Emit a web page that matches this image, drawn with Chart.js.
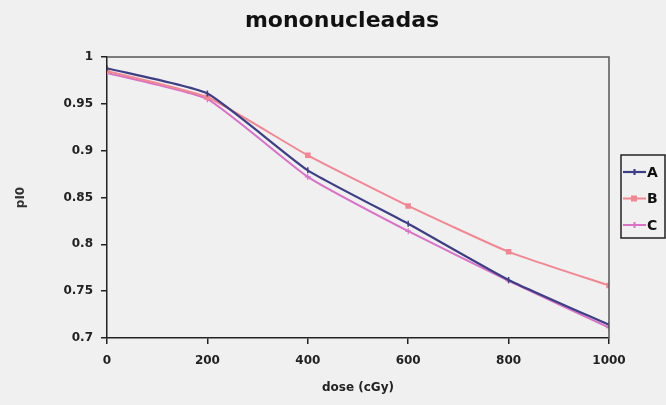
<!DOCTYPE html>
<html>
<head>
<meta charset="utf-8">
<script src="https://cdn.jsdelivr.net/npm/chart.js@4.4.1/dist/chart.umd.min.js"></script>
<style>
  html, body { margin: 0; padding: 0; background: #f0f0f0; }
  #wrap { width: 666px; height: 405px; }
</style>
</head>
<body>
<div id="wrap"><canvas id="curvas" width="666" height="405"></canvas></div>
<script>
var ctx = document.getElementById('curvas').getContext('2d');

/* curvas de sobrevivencia - celulas mononucleadas */
const doses = [0, 200, 400, 600, 800, 1000];
const serieA = [0.988, 0.961, 0.879, 0.822, 0.762, 0.714];
const serieB = [0.985, 0.957, 0.895, 0.841, 0.792, 0.756];
const serieC = [0.983, 0.955, 0.872, 0.814, 0.761, 0.711];
const yTicks = [0.7, 0.75, 0.8, 0.85, 0.9, 0.95, 1];
const xTicks = [0, 200, 400, 600, 800, 1000];

const cores = { A: '#3e3e84', B: '#f08894', C: '#d872c6' };

function pontos(vals) {
    return doses.map((d, i) => ({ x: d, y: vals[i] }));
}

// titulo, moldura e legenda com caixa
const extras = {
    id: 'extras',
    afterDraw(chart) {
        const c = chart.ctx;
        const a = chart.chartArea;
        c.save();
        c.strokeStyle = '#555';
        c.lineWidth = 1.5;
        c.beginPath();
        c.moveTo(a.left, a.top);
        c.lineTo(a.right, a.top);
        c.lineTo(a.right, a.bottom);
        c.stroke();

        c.fillStyle = '#111';
        c.font = 'bold 22px "DejaVu Sans"';
        c.textAlign = 'center';
        c.textBaseline = 'middle';
        c.fillText('mononucleadas', 342, 21);

        // legenda
        c.strokeStyle = '#222';
        c.lineWidth = 1.5;
        c.strokeRect(621, 155, 44, 83);
        c.font = 'bold 14px "DejaVu Sans"';
        c.textAlign = 'left';
        chart.data.datasets.forEach((ds, i) => {
            const y = 172 + i * 26.5;
            c.strokeStyle = ds.borderColor;
            c.lineWidth = ds.borderWidth;
            c.beginPath();
            c.moveTo(623, y);
            c.lineTo(646, y);
            c.stroke();
            c.fillStyle = ds.borderColor;
            if (ds.pointStyle === 'rect') {
                c.fillRect(631, y - 3, 6, 6);
            } else {
                c.beginPath();
                c.moveTo(634.5, y - 3);
                c.lineTo(634.5, y + 3);
                c.stroke();
            }
            c.fillStyle = '#111';
            c.fillText(ds.label, 647, y + 1);
        });
        c.restore();
    }
};

var myChart = new Chart(ctx, {
    type: 'line',
    data: {
        datasets: [{
            label: 'A',
            data: pontos(serieA),
            borderColor: cores.A,
            backgroundColor: cores.A,
            borderWidth: 2.2,
            tension: 0.15,
            pointStyle: 'line',
            rotation: 90,
            pointRadius: 3,
            pointBorderWidth: 1.5
        }, {
            label: 'B',
            data: pontos(serieB),
            borderColor: cores.B,
            backgroundColor: cores.B,
            borderWidth: 2,
            tension: 0.15,
            pointStyle: 'rect',
            pointRadius: 2.5
        }, {
            label: 'C',
            data: pontos(serieC),
            borderColor: cores.C,
            backgroundColor: cores.C,
            borderWidth: 2,
            tension: 0.15,
            pointStyle: 'cross',
            pointRadius: 3,
            pointBorderWidth: 1.2
        }]
    },
    options: {
        responsive: false,
        animation: false,
        layout: { padding: { top: 57, right: 57, left: 0, bottom: 0 } },
        plugins: {
            legend: { display: false },
            title: { display: false },
            tooltip: { enabled: false }
        },
        scales: {
            x: {
                type: 'linear',
                min: 0,
                max: 1000,
                afterFit: (s) => { s.height = 67; },
                afterBuildTicks: (s) => { s.ticks = xTicks.map(v => ({ value: v })); },
                grid: { drawOnChartArea: false, color: '#222', tickLength: 6, lineWidth: 1.5 },
                border: { color: '#222', width: 1.5 },
                ticks: {
                    color: '#222',
                    padding: 10,
                    maxRotation: 0,
                    callback: (v) => String(v),
                    font: { family: 'DejaVu Sans', weight: 'bold', size: 12 }
                },
                title: {
                    display: true,
                    text: 'dose (cGy)',
                    color: '#222',
                    padding: { top: 4, bottom: 10 },
                    font: { family: 'DejaVu Sans', weight: 'bold', size: 12 }
                }
            },
            y: {
                min: 0.7,
                max: 1,
                afterFit: (s) => { s.width = 107; },
                afterBuildTicks: (s) => { s.ticks = yTicks.map(v => ({ value: v })); },
                grid: { drawOnChartArea: false, color: '#222', tickLength: 6, lineWidth: 1.5 },
                border: { color: '#222', width: 1.5 },
                ticks: {
                    color: '#222',
                    padding: 8,
                    callback: (v) => String(Math.round(v * 100) / 100),
                    font: { family: 'DejaVu Sans', weight: 'bold', size: 12 }
                },
                title: {
                    display: true,
                    text: 'pI0',
                    color: '#333',
                    padding: { top: 14 },
                    font: { family: 'DejaVu Sans', weight: 'bold', size: 12 }
                }
            }
        }
    },
    plugins: [extras]
});
</script>
</body>
</html>
